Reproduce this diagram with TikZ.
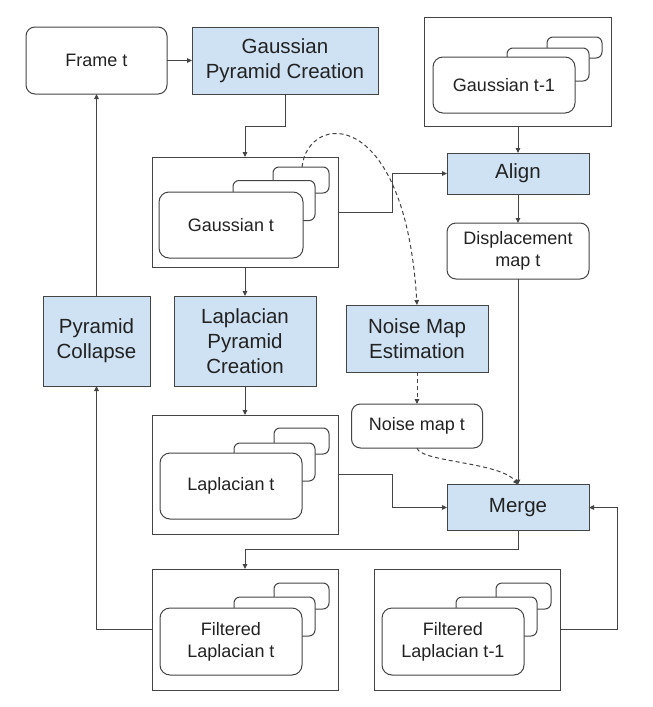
\documentclass[tikz,border=0pt]{standalone}
\usepackage{fontspec}
\setmainfont{Liberation Sans}
\usetikzlibrary{arrows.meta,calc}
\definecolor{lineg}{HTML}{444444}
\definecolor{bluef}{HTML}{CFE2F3}
\definecolor{textg}{HTML}{222222}
\tikzset{
  base/.style={draw=lineg, line width=1pt, inner sep=0pt, outer sep=0pt, align=center, text=textg},
  sz/.style 2 args={minimum width=#1, minimum height=#2},
  bluebox/.style={base, fill=bluef, font=\fontsize{20.5}{25}\selectfont},
  whitebox/.style={base, fill=white, rounded corners=9pt, font=\fontsize{18}{22}\selectfont},
  cont/.style={base, fill=white},
  card/.style={base, fill=white, rounded corners=6pt},
  frontcard/.style={base, fill=white, rounded corners=10pt, font=\fontsize{18}{22}\selectfont},
  arr/.style={draw=lineg, line width=1pt, -{Triangle[length=5pt,width=4.5pt]}},
  dasharr/.style={arr, dash pattern=on 4pt off 3pt},
  plain/.style={draw=lineg, line width=1pt},
}
\begin{document}
\begin{tikzpicture}[x=1pt,y=-1pt]
\useasboundingbox[fill=white] (0,0) rectangle (653,707);

% top row
\node[whitebox, sz={141pt}{67pt}] (frame) at (96.5,60.5) {Frame t};
\node[bluebox, sz={186pt}{67pt}] (gpc) at (285,60.5) {Gaussian\\Pyramid Creation};

% Gaussian t-1 container
\node[cont, sz={187pt}{109pt}] (g1cont) at (518,71.5) {};
\node[card, sz={55pt}{21pt}] (g1b) at (574.5,47.5) {};
\node[card, sz={82pt}{33pt}] (g1m) at (548,64.5) {};
\node[frontcard, sz={142pt}{56pt}] (g1f) at (504,85) {Gaussian t-1};

% Gaussian t container
\node[cont, sz={186pt}{110pt}] (gcont) at (245,212) {};
\node[card, sz={56pt}{26pt}] (gb) at (301,180) {};
\node[card, sz={82pt}{40pt}] (gm) at (274,200.5) {};
\node[frontcard, sz={144pt}{66pt}] (gf) at (231,225) {Gaussian t};

\node[bluebox, sz={142pt}{41pt}] (align) at (518,173.5) {Align};
\node[whitebox, sz={142pt}{56pt}] (disp) at (518,251) {Displacement\\map t};

% middle row
\node[bluebox, sz={107pt}{90pt}] (pc) at (96.5,341) {Pyramid\\Collapse};
\node[bluebox, sz={142pt}{90pt}] (lpc) at (245,341) {Laplacian\\Pyramid\\Creation};
\node[bluebox, sz={142pt}{67pt}] (nme) at (417,338.5) {Noise Map\\Estimation};
\node[whitebox, sz={131pt}{44pt}] (nmap) at (417,426) {Noise map t};

% Laplacian t container
\node[cont, sz={186pt}{119pt}] (lcont) at (245,474.5) {};
\node[card, sz={55pt}{26pt}] (lb) at (301.5,441) {};
\node[card, sz={81pt}{38pt}] (lm) at (274.5,462) {};
\node[frontcard, sz={142pt}{66pt}] (lf) at (231,486) {Laplacian t};

\node[bluebox, sz={142pt}{46pt}] (merge) at (518,507.5) {Merge};

% Filtered Laplacian t container
\node[cont, sz={186pt}{121pt}] (flcont) at (245,629.5) {};
\node[card, sz={55pt}{26pt}] (flb) at (301.5,596) {};
\node[card, sz={81pt}{39pt}] (flm) at (274.5,616.5) {};
\node[frontcard, sz={142pt}{67pt}] (flf) at (231,641.5) {Filtered\\Laplacian t};

% Filtered Laplacian t-1 container
\node[cont, sz={186pt}{121pt}] (fl1cont) at (467,629.5) {};
\node[card, sz={55pt}{26pt}] (fl1b) at (523.5,596) {};
\node[card, sz={81pt}{39pt}] (fl1m) at (496.5,616.5) {};
\node[frontcard, sz={142pt}{67pt}] (fl1f) at (453,641.5) {Filtered\\Laplacian t-1};

% connectors
\draw[arr] (frame) -- (gpc);
\draw[arr] (gpc.south) -- ++(0,32) -| (gcont.north);
\draw[arr] (gcont.east) -- ++(54,0) |- (align.west);
\draw[arr] (g1cont.south) -- (align.north);
\draw[arr] (align.south) -- (disp.north);
\draw[arr] (disp.south) -- (merge.north);
\draw[arr] (gcont.south) -- (lpc.north);
\draw[arr] (lpc.south) -- (lcont.north);
\draw[arr] (lcont.east) -- ++(54,0) |- (merge.west);
\draw[arr] (merge.south) -- ++(0,19) -| (flcont.north);
\draw[arr] (fl1cont.east) -- ++(57,0) |- (merge.east);
\draw[arr] (flcont.west) -| (pc.south);
\draw[arr] (pc.north) -- (frame.south);
\draw[dasharr] ($(gb.north)+(1,0)$) .. controls (308,112) and (405,105) .. (nme.north);
\draw[dasharr] (nme.south) -- (nmap.north);
\draw[dasharr] (nmap.south) .. controls (420,462) and (500,462) .. (merge.north);
\end{tikzpicture}
\end{document}
